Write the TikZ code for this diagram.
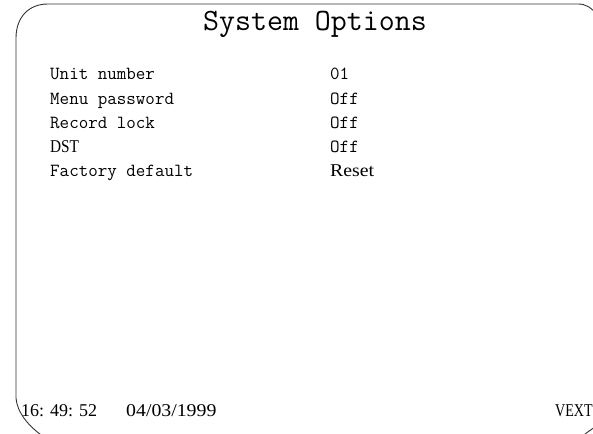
\documentclass[tikz,border=0pt]{standalone}
\usepackage{fontspec}
\newfontfamily\scrserif{Liberation Serif}
\begin{document}
\begin{tikzpicture}[x=1pt,y=-1pt,
  frame/.style={draw=black!80,line width=0.9pt},
  title/.style={anchor=base west,inner sep=0pt,font=\fontsize{31}{31}\selectfont\ttfamily},
  lbl/.style={anchor=base west,inner sep=0pt,font=\fontsize{18.5}{18.5}\selectfont\ttfamily},
  val/.style={anchor=base west,inner sep=0pt,font=\fontsize{18}{18}\selectfont\scrserif},
  foot/.style={anchor=base west,inner sep=0pt,font=\fontsize{18}{18}\selectfont\scrserif}]
\useasboundingbox (0,0) rectangle (593,433);
\clip (0,0) rectangle (593,433);
% screen frame
\draw[frame] (44,437) .. controls (28,426) and (17,412) .. (16,398)
  -- (16,38) .. controls (16,18) and (28,4) .. (48,4)
  -- (578,4) .. controls (586,4) and (591,7) .. (599,17);
\draw[frame] (585,434) .. controls (589,431) and (592,429) .. (598,425);
% title
\node[title] (t) at (203,31) {System Options};
% rows
\node[lbl] (l1) at (50,80) {Unit number};
\node[lbl] (l2) at (50,104) {Menu password};
\node[lbl] (l3) at (50,128) {Record lock};
\node[val,xscale=0.85] (l4) at (50,152) {DST};
\node[lbl] (l5) at (50,176) {Factory default};
\node[lbl] (v1) at (330,80) {01};
\node[lbl] (v2) at (330,104) {Off};
\node[lbl] (v3) at (330,128) {Off};
\node[lbl] (v4) at (330,152) {Off};
\node[val,xscale=1.1] (v5) at (330,176) {Reset};
% footer
\node[foot] (time) at (21,416) {16: 49: 52};
\node[foot,xscale=1.1] (date) at (126,416) {04/03/1999};
\node[foot,xscale=0.78] (vext) at (555,416) {VEXT};
\end{tikzpicture}
\end{document}
